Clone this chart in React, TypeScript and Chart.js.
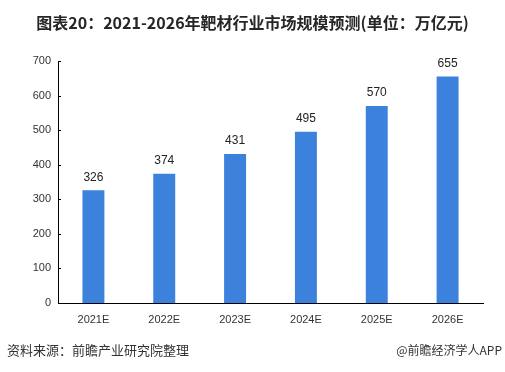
import React, { useEffect, useRef } from "react";
import { Chart, registerables } from "chart.js";

Chart.register(...registerables);

const categories = ["2021E", "2022E", "2023E", "2024E", "2025E", "2026E"];
const values = [326, 374, 431, 495, 570, 655];
const yTicks = [0, 100, 200, 300, 400, 500, 600, 700];
const titleText = "图表20：2021-2026年靶材行业市场规模预测(单位：万亿元)";
const sourceText = "资料来源：前瞻产业研究院整理";
const brandText = "@前瞻经济学人APP";

const CJK = '"Noto Sans CJK SC", "Noto Sans", sans-serif';
const NUM = '"Liberation Sans", "Noto Sans", sans-serif';

export default function App() {
  const ref = useRef<HTMLCanvasElement | null>(null);

  useEffect(() => {
    document.body.style.margin = "0";
    const canvas = ref.current;
    if (!canvas) return;

    const valueLabels = {
      id: "valueLabels",
      afterDatasetsDraw(chart: any) {
        const ctx = chart.ctx;
        const meta = chart.getDatasetMeta(0);
        ctx.save();
        ctx.font = `12px ${NUM}`;
        ctx.fillStyle = "#222";
        ctx.textAlign = "center";
        ctx.textBaseline = "middle";
        meta.data.forEach((bar: any, i: number) => {
          ctx.fillText(String(values[i]), bar.x, bar.y - 13);
        });
        ctx.restore();
      },
    };

    const innerTicks = {
      id: "innerTicks",
      afterDraw(chart: any) {
        const ctx = chart.ctx;
        const y = chart.scales.y;
        const left = chart.chartArea.left;
        ctx.save();
        ctx.strokeStyle = "#000";
        ctx.lineWidth = 1;
        yTicks.forEach((v) => {
          const py = Math.round(y.getPixelForValue(v)) + 0.5;
          ctx.beginPath();
          ctx.moveTo(left, py);
          ctx.lineTo(left + 3, py);
          ctx.stroke();
        });
        ctx.restore();
      },
    };

    const chart = new Chart(canvas, {
      type: "bar",
      data: {
        labels: categories,
        datasets: [
          {
            data: values,
            backgroundColor: "#3c82dc",
            borderWidth: 0,
            categoryPercentage: 1,
            barPercentage: 0.31,
          },
        ],
      },
      options: {
        responsive: false,
        animation: false,
        devicePixelRatio: 1,
        layout: { padding: { left: 0, right: 22, top: 61, bottom: 39 } },
        plugins: {
          legend: { display: false },
          tooltip: { enabled: false },
          title: { display: false },
        },
        scales: {
          x: {
            grid: { display: false, drawTicks: false },
            border: { display: true, color: "#000", width: 1 },
            ticks: {
              padding: 10,
              color: "#333",
              font: { family: NUM, size: 11 },
            },
            afterFit(scale: any) {
              scale.height = 30;
            },
          },
          y: {
            min: 0,
            max: 700,
            grid: { display: false, drawTicks: false },
            border: { display: true, color: "#000", width: 1 },
            afterBuildTicks(scale: any) {
              scale.ticks = yTicks.map((v) => ({ value: v }));
            },
            ticks: {
              padding: 7,
              color: "#333",
              font: { family: NUM, size: 11 },
            },
            afterFit(scale: any) {
              scale.width = 58;
            },
          },
        },
      },
      plugins: [valueLabels, innerTicks],
    });

    return () => chart.destroy();
  }, []);

  return (
    <div style={{ position: "fixed", left: 0, top: 0, width: 505, height: 372, background: "#fff" }}>
      <canvas ref={ref} width={505} height={372} style={{ position: "absolute", left: 0, top: 0 }} />
      <div
        style={{
          position: "absolute",
          left: 0,
          width: 505,
          top: 11,
          textAlign: "center",
          fontFamily: CJK,
          fontWeight: "bold",
          fontSize: 16,
          lineHeight: "22px",
          color: "#262626",
          whiteSpace: "nowrap",
        }}
      >
        {titleText}
      </div>
      <div
        style={{
          position: "absolute",
          left: 7,
          top: 341,
          fontFamily: CJK,
          fontSize: 13,
          lineHeight: "18px",
          color: "#333",
          whiteSpace: "nowrap",
        }}
      >
        {sourceText}
      </div>
      <div
        style={{
          position: "absolute",
          right: 3,
          top: 341,
          fontFamily: CJK,
          fontSize: 12,
          lineHeight: "18px",
          color: "#333",
          whiteSpace: "nowrap",
        }}
      >
        {brandText}
      </div>
    </div>
  );
}
